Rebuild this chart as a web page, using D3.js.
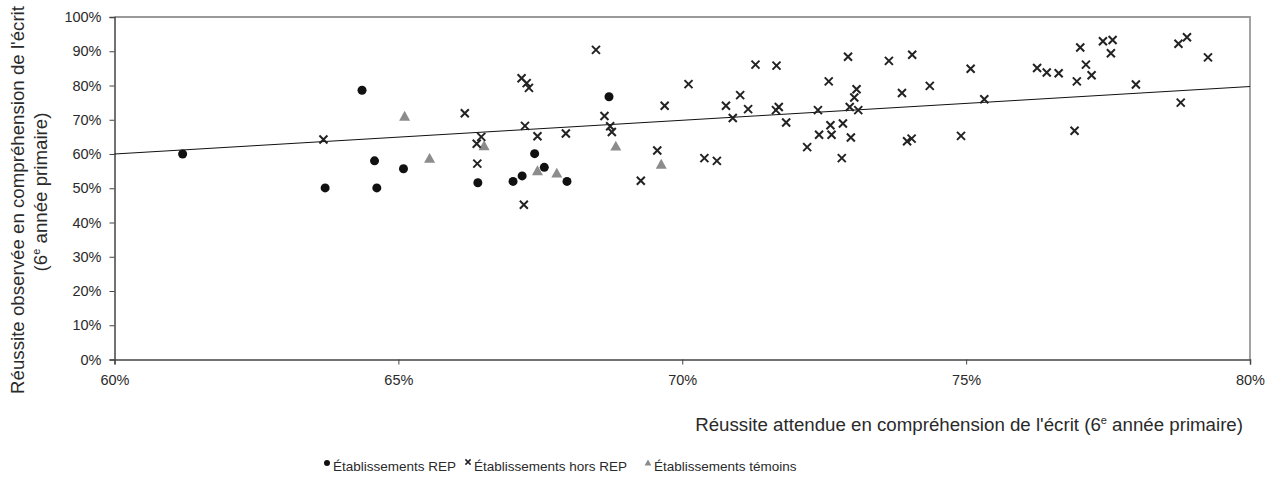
<!DOCTYPE html>
<html><head><meta charset="utf-8">
<script src="https://cdn.jsdelivr.net/npm/d3@7"></script>
<style>
body{margin:0;background:#fff;}
svg{display:block;font-family:"Liberation Sans",Arial,sans-serif;}
</style></head>
<body><svg id="c" width="1272" height="498"></svg>
<script>
// --- data ---
const xTicks = [60, 65, 70, 75, 80];
const yTicks = [0, 10, 20, 30, 40, 50, 60, 70, 80, 90, 100];

const repX = [61.2, 64.36, 64.58, 65.09, 66.40, 63.71, 64.62, 68.71, 67.40, 67.57, 67.02, 67.18, 67.97];
const repY = [60.0, 78.6, 58.0, 55.7, 51.6, 50.1, 50.1, 76.7, 60.1, 56.1, 52.0, 53.6, 52.0];

const temX = [65.11, 65.55, 66.51, 68.83, 69.63, 67.45, 67.79];
const temY = [70.9, 58.6, 62.3, 62.2, 56.9, 55.0, 54.3];

const horsX = [63.68, 66.17, 66.46, 66.38, 66.39,
  68.48, 67.17, 67.26, 67.30, 69.69, 70.11, 70.77, 68.63, 67.23, 68.73, 68.76, 67.45, 67.95, 69.56, 70.39, 70.61, 69.27, 67.21,
  71.29, 71.66, 72.92, 73.64, 74.05, 75.08, 72.58, 71.02, 71.16, 70.89, 71.65, 71.70, 71.83, 72.39, 73.07, 73.03, 72.95, 73.10, 73.87, 74.36, 75.32, 72.61, 72.83, 72.41, 72.63, 72.97, 72.20, 72.81, 73.96, 74.04, 74.91,
  76.25, 76.42, 76.63, 77.01, 77.11, 77.21, 76.95, 77.41, 77.58, 77.55, 77.99, 76.91, 78.74, 78.89, 79.26, 78.78];
const horsY = [64.25, 71.9, 65.0, 63.0, 57.2,
  90.4, 82.1, 80.7, 79.3, 74.1, 80.4, 74.1, 71.1, 68.2, 68.1, 66.4, 65.2, 66.0, 61.0, 58.8, 58.0, 52.2, 45.2,
  86.1, 85.8, 88.4, 87.2, 89.0, 84.9, 81.2, 77.2, 73.1, 70.5, 72.8, 73.7, 69.2, 72.8, 78.9, 76.5, 73.7, 72.8, 77.8, 79.9, 76.0, 68.4, 68.9, 65.6, 65.6, 64.8, 62.0, 58.8, 63.7, 64.5, 65.3,
  85.1, 83.8, 83.6, 91.1, 86.1, 83.0, 81.2, 92.9, 93.3, 89.4, 80.3, 66.8, 92.2, 94.1, 88.2, 75.0];

const trendX = [60, 80];
const trendY = [60.0, 79.7];

const legendLabels = ["Établissements REP", "Établissements hors REP", "Établissements témoins"];
const xTitle = "Réussite attendue en compréhension de l'écrit (6";
const yTitle1 = "Réussite observée en compréhension de l'écrit";

// --- chart ---
const svg = d3.select("#c");
const L = 114.5, R = 1250, T = 17, B = 359.5;
const x = d3.scaleLinear().domain([60, 80]).range([L, R]);
const y = d3.scaleLinear().domain([0, 100]).range([B, T]);
const txt = "#2a2a2a";

// frame (top/right gray)
svg.append("path").attr("d", `M${L},${T}H${R}V${B}`).attr("fill", "none")
  .attr("stroke", "#999").attr("stroke-width", 1.8);

// y axis
const gy = svg.append("g").attr("transform", `translate(${L},0)`)
  .call(d3.axisLeft(y).tickValues(yTicks).tickFormat(d => d + "%").tickSize(5).tickPadding(8));
// x axis
const gx = svg.append("g").attr("transform", `translate(0,${B})`)
  .call(d3.axisBottom(x).tickValues(xTicks).tickFormat(d => d + "%").tickSize(5).tickPadding(10));
[gx, gy].forEach(g => {
  g.select(".domain").attr("stroke", "#444").attr("stroke-width", 1.5);
  g.selectAll(".tick line").attr("stroke", "#444");
  g.selectAll("text").attr("fill", txt).style("font-size", "14.5px")
    .style("font-family", '"Liberation Sans",Arial,sans-serif');
});

// trendline
svg.append("line")
  .attr("x1", x(trendX[0])).attr("y1", y(trendY[0]))
  .attr("x2", x(trendX[1])).attr("y2", y(trendY[1]))
  .attr("stroke", "#111").attr("stroke-width", 1);

// markers
const triPath = s => `M0,${-s}L${s * 0.95},${s * 0.7}L${-s * 0.95},${s * 0.7}Z`;
const xPath = s => `M${-s},${-s}L${s},${s}M${-s},${s}L${s},${-s}`;

svg.append("g").selectAll("path").data(d3.range(temX.length)).join("path")
  .attr("transform", i => `translate(${x(temX[i])},${y(temY[i])})`)
  .attr("d", triPath(5.8)).attr("fill", "#8c8c8c");

svg.append("g").selectAll("path").data(d3.range(horsX.length)).join("path")
  .attr("transform", i => `translate(${x(horsX[i])},${y(horsY[i])})`)
  .attr("d", xPath(4)).attr("stroke", "#222").attr("stroke-width", 2).attr("fill", "none");

svg.append("g").selectAll("circle").data(d3.range(repX.length)).join("circle")
  .attr("cx", i => x(repX[i])).attr("cy", i => y(repY[i])).attr("r", 4.5).attr("fill", "#111");

// axis titles
const xt = svg.append("text").attr("x", 1243).attr("y", 431).attr("text-anchor", "end")
  .attr("fill", txt).style("font-size", "18.7px");
xt.append("tspan").text(xTitle);
xt.append("tspan").text("e").attr("dy", -7).style("font-size", "11px");
xt.append("tspan").text(" année primaire)").attr("dy", 7);

svg.append("text").attr("transform", `translate(24,200) rotate(-90)`).attr("text-anchor", "middle")
  .attr("fill", txt).style("font-size", "18.7px").text(yTitle1);
const yt2 = svg.append("text").attr("transform", `translate(47,192) rotate(-90)`).attr("text-anchor", "middle")
  .attr("fill", txt).style("font-size", "18.7px");
yt2.append("tspan").text("(6");
yt2.append("tspan").text("e").attr("dy", -7).style("font-size", "11px");
yt2.append("tspan").text(" année primaire)").attr("dy", 7);

// legend
const legX = [327, 468, 648];
const ly = 467;
const lg = svg.append("g");
lg.append("circle").attr("cx", legX[0]).attr("cy", ly - 4).attr("r", 3).attr("fill", "#111");
lg.append("path").attr("transform", `translate(${legX[1]},${ly - 5})`).attr("d", xPath(2.6))
  .attr("stroke", "#222").attr("stroke-width", 1.5);
lg.append("path").attr("transform", `translate(${legX[2]},${ly - 4})`).attr("d", triPath(3.6)).attr("fill", "#8c8c8c");
legendLabels.forEach((t, i) => {
  lg.append("text").attr("x", legX[i] + 6).attr("y", ly + 4).attr("fill", txt)
    .style("font-size", "13.5px").text(t);
});
</script></body></html>
